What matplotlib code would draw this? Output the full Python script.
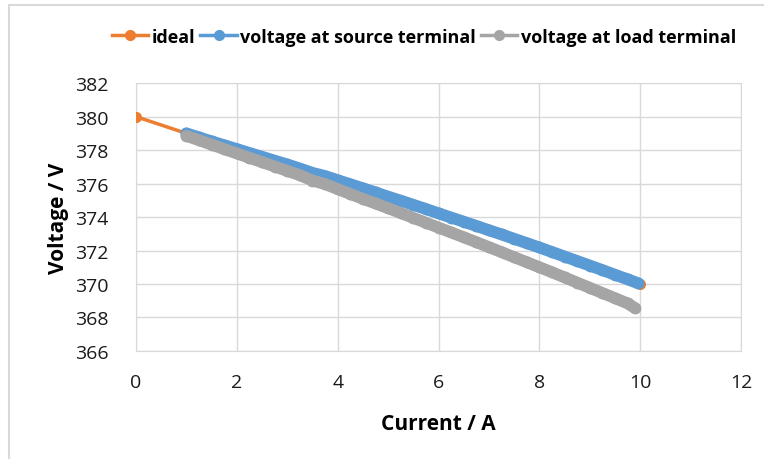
import matplotlib.pyplot as plt
from matplotlib.lines import Line2D

# ideal source characteristic
ideal_i = [0, 10]
ideal_v = [380, 370]

# voltage at source terminal
source_i = [1.0, 1.25, 1.5, 1.75, 2.0, 2.25, 2.5, 2.75, 3.0, 3.25, 3.5, 3.75,
            4.0, 4.25, 4.5, 4.75, 5.0, 5.25, 5.5, 5.75, 6.0, 6.25, 6.5, 6.75,
            7.0, 7.25, 7.5, 7.75, 8.0, 8.25, 8.5, 8.75, 9.0, 9.25, 9.5, 9.75, 9.96]
source_v = [379.00, 378.76, 378.52, 378.29, 378.06, 377.83, 377.60, 377.37,
            377.14, 376.90, 376.64, 376.45, 376.20, 375.96, 375.72, 375.47,
            375.22, 374.98, 374.73, 374.48, 374.22, 373.97, 373.72, 373.47,
            373.21, 372.96, 372.70, 372.44, 372.18, 371.91, 371.64, 371.37,
            371.10, 370.83, 370.55, 370.28, 370.04]

# voltage at load terminal
load_i = [1.0, 1.25, 1.5, 1.75, 2.0, 2.25, 2.5, 2.75, 3.0, 3.25, 3.5, 3.75,
          4.0, 4.25, 4.5, 4.75, 5.0, 5.25, 5.5, 5.75, 6.0, 6.25, 6.5, 6.75,
          7.0, 7.25, 7.5, 7.75, 8.0, 8.25, 8.5, 8.75, 9.0, 9.25, 9.5, 9.75, 9.9]
load_v = [378.85, 378.59, 378.33, 378.06, 377.80, 377.54, 377.28, 377.02,
          376.76, 376.50, 376.18, 375.97, 375.67, 375.38, 375.09, 374.81,
          374.53, 374.24, 373.95, 373.66, 373.37, 373.08, 372.79, 372.50,
          372.20, 371.90, 371.60, 371.30, 371.00, 370.70, 370.39, 370.08,
          369.77, 369.46, 369.15, 368.84, 368.55]

x_ticks = [0, 2, 4, 6, 8, 10, 12]
y_ticks = [366, 368, 370, 372, 374, 376, 378, 380, 382]

c_ideal = "#ED7D31"
c_source = "#5B9BD5"
c_load = "#A5A5A5"
c_grid = "#D9D9D9"

plt.rcParams['font.family'] = ['Open Sans', 'DejaVu Sans']

fig = plt.figure(figsize=(7.64, 4.60), dpi=100)
ax = fig.add_axes([0.178, 0.235, 0.792, 0.582])

ax.plot(ideal_i, ideal_v, color=c_ideal, lw=2.5, marker="o", ms=8, mew=0, zorder=3)
ax.plot(source_i, source_v, color=c_source, lw=8.5, marker="o", ms=8.5,
        mew=0, solid_capstyle="round", solid_joinstyle="round", zorder=4)
ax.plot(load_i, load_v, color=c_load, lw=8.5, marker="o", ms=8.5,
        mew=0, solid_capstyle="round", solid_joinstyle="round", zorder=5)

ax.set_xlim(0, 12)
ax.set_ylim(366, 382)
ax.set_xticks(x_ticks)
ax.set_yticks(y_ticks)
ax.tick_params(length=0, labelsize=14, colors="#1a1a1a")
ax.tick_params(axis="x", pad=16)
ax.tick_params(axis="y", pad=20)
ax.grid(True, color=c_grid, lw=1)
ax.set_axisbelow(True)
for s in ax.spines.values():
    s.set_color(c_grid)

ax.set_xlabel("Current / A", fontsize=15, fontweight="bold", labelpad=16)
ax.set_ylabel("Voltage / V", fontsize=15, fontweight="bold", labelpad=4)

handles = [
    Line2D([], [], color=c_ideal, lw=2.5, marker="o", ms=7),
    Line2D([], [], color=c_source, lw=2.5, marker="o", ms=7),
    Line2D([], [], color=c_load, lw=2.5, marker="o", ms=7),
]
labels = ["ideal", "voltage at source terminal", "voltage at load terminal"]
fig.legend(handles, labels, loc="center", bbox_to_anchor=(0.555, 0.918), ncol=3,
           frameon=False, handlelength=2.0, handletextpad=0.2, columnspacing=0.3,
           prop={"size": 13, "weight": "bold"})

# outer chart frame (left and top edges visible in the crop)
fig.add_artist(Line2D([0.012, 0.012], [0, 0.987], color=c_grid, lw=1.5,
                      transform=fig.transFigure))
fig.add_artist(Line2D([0.012, 1.0], [0.987, 0.987], color=c_grid, lw=1.5,
                      transform=fig.transFigure))

fig.savefig("out.png", dpi=100)
